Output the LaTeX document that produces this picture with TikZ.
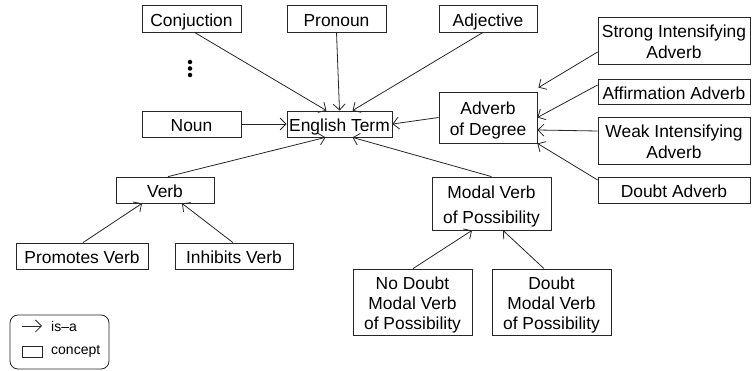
\documentclass[tikz,border=0pt]{standalone}
\usepackage{fontspec}
\setmainfont{Liberation Sans}
\usetikzlibrary{arrows.meta}
\tikzset{
  box/.style={draw=black!85, line width=0.8pt, inner sep=0pt, align=center,
    text height=16pt, text depth=0.4pt,
    font=\fontsize{17.4}{21}\selectfont},
  twoline/.style={text height=37pt},
  threeline/.style={text height=56pt, font=\fontsize{17.4}{20}\selectfont},
  isa/.style={draw=black!85, line width=0.8pt, -{Straight Barb[length=6pt,width=12pt]}},
  legtext/.style={font=\fontsize{14}{16}\selectfont, anchor=west, inner sep=0pt},
  dot/.style={fill=black, circle, inner sep=0pt, minimum size=4.5pt},
}
\begin{document}
\begin{tikzpicture}[x=1pt,y=-1pt]
\useasboundingbox (0,0) rectangle (753,371);
% top row
\node[box, minimum width=99pt, minimum height=27pt] (conj) at (191.5,18.5) {Conjuction};
\node[box, minimum width=99pt, minimum height=27pt] (pron) at (336.5,18.5) {Pronoun};
\node[box, minimum width=98pt, minimum height=27pt] (adj) at (488,18.5) {Adjective};
% dots
\node[dot] (d1) at (190,62) {};
\node[dot] (d2) at (190,68.5) {};
\node[dot] (d3) at (190,75) {};
% middle
\node[box, minimum width=99pt, minimum height=26pt] (noun) at (191.5,124) {Noun};
\node[box, minimum width=105pt, minimum height=26pt] (eng) at (339.5,124) {English Term};
\node[box, twoline, minimum width=98pt, minimum height=51pt] (deg) at (488,117.5) {Adverb\\of Degree};
% right column
\node[box, twoline, minimum width=152pt, minimum height=47pt] (strong) at (674,40.5) {Strong Intensifying\\Adverb};
\node[box, minimum width=152pt, minimum height=25pt] (affirm) at (674,91.5) {Affirmation Adverb};
\node[box, twoline, minimum width=152pt, minimum height=47pt] (weak) at (674,140.5) {Weak Intensifying\\Adverb};
\node[box, minimum width=152pt, minimum height=26pt] (doubtadv) at (674,190) {Doubt Adverb};
% verb branch
\node[box, minimum width=98pt, minimum height=26pt] (verb) at (165,190) {Verb};
\node[box, minimum width=132pt, minimum height=26pt] (prom) at (82,256) {Promotes Verb};
\node[box, minimum width=118pt, minimum height=26pt] (inhib) at (234,256) {Inhibits Verb};
% modal branch
\node[box, text height=41pt, minimum width=119pt, minimum height=53pt] (modal) at (491.5,203.5) {Modal Verb\\[4pt]of Possibility};
\node[box, threeline, minimum width=119pt, minimum height=66pt] (nodoubt) at (412.5,302) {No Doubt\\Modal Verb\\of Possibility};
\node[box, threeline, minimum width=119pt, minimum height=66pt] (doubtmodal) at (551.5,302) {Doubt\\Modal Verb\\of Possibility};
% edges
\draw[isa] ([xshift=3pt]conj.south) -- ([xshift=-13pt]eng.north);
\draw[isa] (pron.south) -- (eng.north);
\draw[isa] ([xshift=-5pt]adj.south) -- ([xshift=13pt]eng.north);
\draw[isa] (noun.east) -- (eng.west);
\draw[isa] (deg.west) -- (eng.east);
\draw[isa] ([xshift=3pt]verb.north) -- ([xshift=-14pt]eng.south);
\draw[isa] (modal.north) -- ([xshift=13pt]eng.south);
\draw[isa] ([yshift=-11.5pt]strong.west) -- ([xshift=1pt,yshift=4pt]deg.north east);
\draw[isa] ([yshift=6.5pt]affirm.west) -- (deg.east);
\draw[isa] ([yshift=9.5pt]weak.west) -- ([yshift=-12.5pt]deg.east);
\draw[isa] ([yshift=10pt]doubtadv.west) -- (deg.south east);
\draw[isa] ([xshift=1pt]prom.north) -- ([xshift=-23pt]verb.south);
\draw[isa] ([xshift=-1pt]inhib.north) -- ([xshift=17pt]verb.south);
\draw[isa] ([xshift=0.5pt]nodoubt.north) -- ([xshift=-19.5pt]modal.south);
\draw[isa] ([xshift=-7.5pt]doubtmodal.north) -- ([xshift=11.5pt]modal.south);
% legend
\node[draw=black!85, line width=0.8pt, rounded corners=8pt, minimum width=99pt, minimum height=54pt] (legend) at (59.5,342) {};
\coordinate (la1) at (22,326);
\coordinate (la2) at (42,326);
\draw[isa] (la1) -- (la2);
\node[legtext] (lisa) at (51,326) {is–a};
\node[draw=black!85, line width=0.8pt, minimum width=20pt, minimum height=11pt, inner sep=0pt] (lbox) at (32,351.5) {};
\node[legtext] (lconcept) at (51,351.5) {concept};
\end{tikzpicture}
\end{document}
